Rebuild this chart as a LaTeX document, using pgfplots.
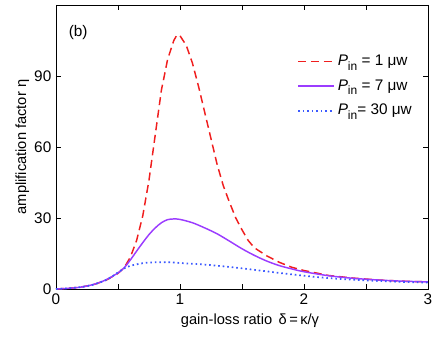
\documentclass[border=0pt]{standalone}
\usepackage{fontspec}
\setmainfont{Liberation Sans}
\usepackage{pgfplots}
\pgfplotsset{compat=1.18}

\definecolor{cred}{RGB}{240,30,30}
\definecolor{cpurple}{RGB}{155,60,255}
\definecolor{cblue}{RGB}{60,90,255}

\newcommand{\Pin}{\textit{P}\raisebox{-0.55ex}{\small in}}

\begin{document}
\begin{tikzpicture}
  \begin{axis}[
    scale only axis,
    width=279pt, height=213pt,
    xmin=0, xmax=3, ymin=0, ymax=120,
    xtick={0,1,2,3}, ytick={0,30,60,90},
    minor xtick={0.5,1.5,2.5},
    minor tick length=4pt, major tick length=4pt,
    tick align=inside,
    tick style={black, line width=0.4pt},
    axis line style={line width=0.5pt},
    font=\fontsize{11.5}{13.8}\selectfont,
    /pgf/number format/assume math mode=true,
    xlabel={gain-loss ratio\ \,δ\,=\,κ/γ},
    ylabel={amplification factor\ η},
    label style={font=\fontsize{11}{13.2}\selectfont},
    xlabel style={yshift=0pt, xshift=6pt},
    ylabel style={yshift=-3pt},
    legend style={draw=none, fill=none, at={(0.975,0.843)}, anchor=north east,
      font=\fontsize{11.5}{13.8}\selectfont, row sep=5pt},
    legend cell align=left,
    legend image code/.code={\draw[#1] (0pt,0pt) -- (27pt,0pt);},
  ]
    \addplot[cred, line width=1.1pt, dash pattern=on 6pt off 3.5pt] coordinates {
      (0,0) (0.1,0.3) (0.2,0.8) (0.3,1.8) (0.4,3.6) (0.5,6.6) (0.55,9.0)
      (0.6,13.5) (0.65,20.5) (0.7,31) (0.75,46) (0.8,65) (0.85,84)
      (0.9,97) (0.95,105) (0.975,107.3) (1.0,107) (1.05,103) (1.1,95.5)
      (1.15,85.5) (1.2,74.5) (1.25,63.5) (1.3,52.5) (1.35,43.5) (1.4,36.5)
      (1.45,30) (1.5,25) (1.55,20.5) (1.6,17.4) (1.7,14) (1.8,11.3)
      (1.9,9.2) (2.0,7.8) (2.2,5.7) (2.4,4.6) (2.6,3.8) (2.8,3.3) (3.0,3.0)
    };
    \addlegendentry{\Pin\ = 1 μw}
    \addplot[cpurple, line width=1.1pt, smooth] coordinates {
      (0,0) (0.1,0.3) (0.2,0.8) (0.3,1.9) (0.4,3.8) (0.5,6.8) (0.55,9.0)
      (0.6,12.3) (0.65,16.0) (0.7,19.6) (0.75,23) (0.8,25.8) (0.85,28)
      (0.9,29.3) (0.95,29.6) (1.0,29.4) (1.1,28) (1.2,25.8) (1.3,23.3)
      (1.4,20.2) (1.5,17) (1.6,14.2) (1.7,11.8) (1.8,9.9) (1.9,8.5)
      (2.0,7.3) (2.2,5.6) (2.4,4.5) (2.6,3.8) (2.8,3.3) (3.0,3.0)
    };
    \addlegendentry{\Pin\ = 7 μw}
    \addplot[cblue, line width=1.3pt, dash pattern=on 1.2pt off 2.2pt, smooth] coordinates {
      (0,0) (0.1,0.3) (0.2,0.8) (0.3,1.8) (0.4,3.7) (0.45,5.2) (0.5,7.0)
      (0.55,8.7) (0.6,9.8) (0.7,10.9) (0.8,11.3) (0.9,11.3) (1.0,11.0)
      (1.2,10.3) (1.4,9.3) (1.6,8.1) (1.8,6.8) (2.0,5.6) (2.2,4.6)
      (2.4,3.9) (2.6,3.4) (2.8,3.0) (3.0,2.7)
    };
    \addlegendentry{\Pin= 30 μw}
    \node[anchor=west] at (axis cs:0.065,108.5) {(b)};
  \end{axis}
  \pgfresetboundingbox
  \useasboundingbox (-42pt,-35.25pt) rectangle (285pt,216.75pt);
\end{tikzpicture}
\end{document}
